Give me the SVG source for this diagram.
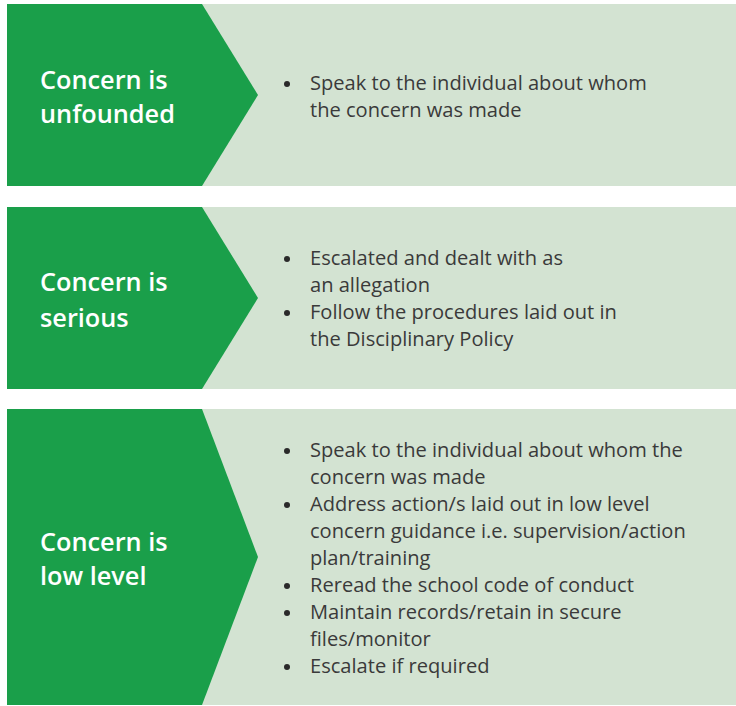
<svg xmlns="http://www.w3.org/2000/svg" width="736" height="706" viewBox="0 0 736 706">
<style>
.bg{fill:#d3e3d2}
.chev{fill:#1a9f4a}
.lbl{font-family:"Open Sans","Noto Sans",sans-serif;font-weight:600;font-size:25.3px;fill:#ffffff}
.txt{font-family:"Open Sans","Noto Sans",sans-serif;font-size:20.1px;fill:#3a3a3a}
.dot{fill:#2a2a2a}
</style>
<rect width="736" height="706" fill="#ffffff"/>
<g id="node-unfounded">
<rect class="bg" x="7" y="4" width="729" height="182"/>
<polygon class="chev" points="7,4 202,4 258,95 202,186 7,186"/>
<text class="lbl" x="40" y="89">Concern is</text>
<text class="lbl" x="40" y="123">unfounded</text>
<circle class="dot" cx="287" cy="84" r="3"/>
<text class="txt" x="310" y="90">Speak to the individual about whom</text>
<text class="txt" x="310" y="117">the concern was made</text>
</g>
<g id="node-serious">
<rect class="bg" x="7" y="207" width="729" height="182"/>
<polygon class="chev" points="7,207 202,207 258,298 202,389 7,389"/>
<text class="lbl" x="40" y="291">Concern is</text>
<text class="lbl" x="40" y="327">serious</text>
<circle class="dot" cx="287" cy="259" r="3"/>
<text class="txt" x="310" y="265">Escalated and dealt with as</text>
<text class="txt" x="310" y="292">an allegation</text>
<circle class="dot" cx="287" cy="313" r="3"/>
<text class="txt" x="310" y="319">Follow the procedures laid out in</text>
<text class="txt" x="310" y="346">the Disciplinary Policy</text>
</g>
<g id="node-lowlevel">
<rect class="bg" x="7" y="409" width="729" height="296"/>
<polygon class="chev" points="7,409 202,409 258,557 202,705 7,705"/>
<text class="lbl" x="40" y="551">Concern is</text>
<text class="lbl" x="40" y="585">low level</text>
<circle class="dot" cx="287" cy="451" r="3"/>
<text class="txt" x="310" y="457">Speak to the individual about whom the</text>
<text class="txt" x="310" y="484">concern was made</text>
<circle class="dot" cx="287" cy="505" r="3"/>
<text class="txt" x="310" y="511">Address action/s laid out in low level</text>
<text class="txt" x="310" y="538">concern guidance i.e. supervision/action</text>
<text class="txt" x="310" y="565">plan/training</text>
<circle class="dot" cx="287" cy="586" r="3"/>
<text class="txt" x="310" y="592">Reread the school code of conduct</text>
<circle class="dot" cx="287" cy="613" r="3"/>
<text class="txt" x="310" y="619">Maintain records/retain in secure</text>
<text class="txt" x="310" y="646">files/monitor</text>
<circle class="dot" cx="287" cy="667" r="3"/>
<text class="txt" x="310" y="673">Escalate if required</text>
</g>
<g id="connectors"></g>
</svg>
